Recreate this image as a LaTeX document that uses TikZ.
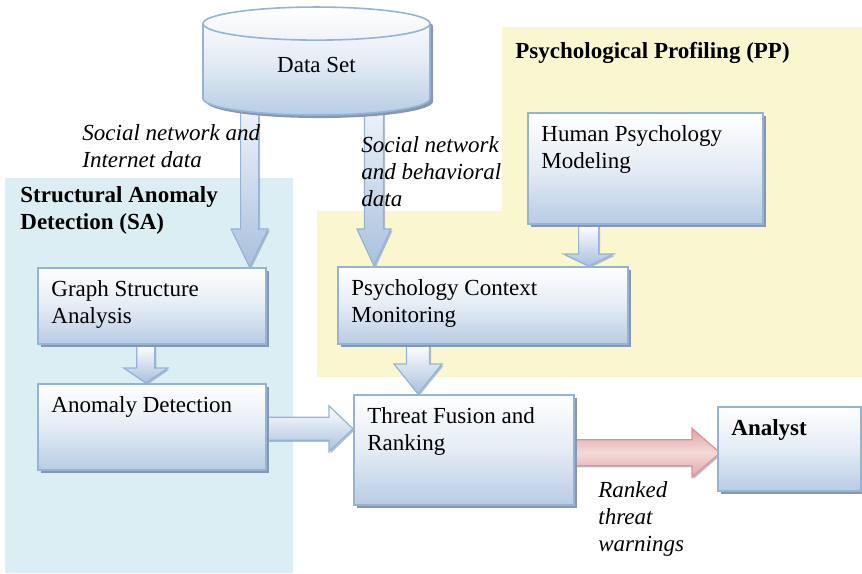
\documentclass[tikz,border=0pt]{standalone}
\usepackage{fontspec}
\setmainfont{Liberation Serif}
\usetikzlibrary{shapes.geometric}
\usetikzlibrary{positioning}
\usetikzlibrary{shadows}
\usetikzlibrary{calc}

\definecolor{boxline}{HTML}{95B3D7}
\definecolor{boxblue}{HTML}{B8CCE4}
\definecolor{boxmid}{HTML}{E4ECF5}
\definecolor{shadowc}{HTML}{8797AE}
\definecolor{sabg}{HTML}{DAEEF3}
\definecolor{ppbg}{HTML}{FAF7D0}
\definecolor{arrowblue}{HTML}{A9C0DE}
\definecolor{redline}{HTML}{D99694}
\definecolor{redfill}{HTML}{DFA3A2}
\definecolor{redlight}{HTML}{F4DAD9}

\pgfdeclarelayer{regions}
\pgfdeclarelayer{arrowlayer}
\pgfsetlayers{regions,arrowlayer,main}

% fat arrows: [style]{start}{tip}{half shaft}{half head}{head length}
\newcommand{\downfat}[6][fatarrow]{%
  \path[#1] let \p1=(#2), \p2=(#3) in
    (\x2-#4,\y1) -- (\x2-#4,\y2+#6) -- (\x2-#5,\y2+#6) -- (\p2)
    -- (\x2+#5,\y2+#6) -- (\x2+#4,\y2+#6) -- (\x2+#4,\y1) -- cycle;}
\newcommand{\rightfat}[6][fatarrow]{%
  \path[#1] let \p1=(#2), \p2=(#3) in
    (\x1,\y2+#4) -- (\x2-#6,\y2+#4) -- (\x2-#6,\y2+#5) -- (\p2)
    -- (\x2-#6,\y2-#5) -- (\x2-#6,\y2-#4) -- (\x1,\y2-#4) -- cycle;}

\begin{document}
\begin{tikzpicture}[x=0.5pt, y=-0.5pt,
    every node/.style={font=\fontsize{11.5}{13.5}\selectfont},
    box/.style={draw=boxline, line width=0.8pt, rectangle, anchor=north west,
      top color=white, bottom color=boxblue, middle color=boxmid,
      drop shadow={shadow xshift=1.5pt, shadow yshift=-1.5pt, fill=shadowc, opacity=1}},
    boxtext/.style={anchor=base west, align=flush left, text width=140pt, inner sep=0pt,
      xshift=7pt, yshift=-14.5pt},
    note/.style={anchor=base west, align=flush left, text width=100pt, inner sep=0pt,
      font=\fontsize{11.5}{13.5}\selectfont\itshape},
    title/.style={anchor=base west, align=flush left, text width=160pt, inner sep=0pt,
      font=\fontsize{11.5}{13.5}\selectfont\bfseries},
    fatarrow/.style={draw=boxline, line width=0.6pt, top color=white, bottom color=arrowblue,
      drop shadow={shadow xshift=0.8pt, shadow yshift=-0.8pt, fill=shadowc, opacity=0.6}},
    redarrow/.style={draw=redline, line width=0.6pt, top color=redfill, bottom color=redfill,
      middle color=redlight,
      drop shadow={shadow xshift=0.8pt, shadow yshift=-0.8pt, fill=shadowc, opacity=0.6}}]
  \useasboundingbox (0,0) rectangle (862,573);

  % shaded regions
  \begin{pgfonlayer}{regions}
    \fill[sabg] (5,178) rectangle (293,573);
    \fill[ppbg] (502,27) -- (862,27) -- (862,377) -- (317,377) -- (317,211) -- (502,211) -- cycle;
  \end{pgfonlayer}
  \node[title] (satitle) at (20,202) {Structural Anomaly\\Detection (SA)};
  \node[title] (pptitle) at (515,58) {Psychological Profiling (PP)};

  % data store
  \node[cylinder, shape border rotate=90, aspect=0.36, draw=boxline, line width=0.8pt,
    minimum width=113.5pt, minimum height=54pt,
    top color=white, bottom color=boxblue, middle color=boxmid,
    drop shadow={shadow xshift=1.5pt, shadow yshift=-1.5pt, fill=shadowc, opacity=1}]
    (ds) at (316.5,72.5) {\raisebox{7.5pt}{Data Set}};

  % processing blocks
  \node[box, minimum width=114pt, minimum height=38pt] (gsa) at (37,267) {};
  \node[boxtext] (gsatxt) at (gsa.north west) {Graph Structure\\Analysis};
  \node[box, minimum width=114pt, minimum height=43pt] (ad) at (37,383) {};
  \node[boxtext] (adtxt) at (ad.north west) {Anomaly Detection};
  \node[box, minimum width=117.5pt, minimum height=55.5pt] (hpm) at (527,112) {};
  \node[boxtext] (hpmtxt) at (hpm.north west) {Human Psychology\\Modeling};
  \node[box, minimum width=145pt, minimum height=38.5pt] (pcm) at (337,266) {};
  \node[boxtext] (pcmtxt) at (pcm.north west) {Psychology Context\\Monitoring};
  \node[box, minimum width=110pt, minimum height=55pt] (tfr) at (353,394) {};
  \node[boxtext] (tfrtxt) at (tfr.north west) {Threat Fusion and\\Ranking};
  \node[box, minimum width=71.5pt, minimum height=42pt] (an) at (717,406) {};
  \node[boxtext, font=\fontsize{11.5}{13.5}\selectfont\bfseries] (antxt) at (an.north west) {Analyst};

  % block arrows
  \begin{pgfonlayer}{arrowlayer}
    \downfat{ds.center}{[xshift=-8.5pt]gsa.north east}{4.5pt}{9.25pt}{19pt}
    \downfat{ds.center}{[xshift=18.5pt]pcm.north west}{4.75pt}{8.5pt}{18.5pt}
    \downfat{hpm.south}{[xshift=-20pt]pcm.north east}{5pt}{12.5pt}{6pt}
    \downfat{pcm.south}{[xshift=32.5pt]tfr.north west}{5.75pt}{12pt}{15pt}
    \downfat{gsa.south}{[xshift=-3pt]ad.north}{4.5pt}{11pt}{7.5pt}
    \rightfat{ad.east}{[yshift=10.5pt]tfr.west}{5.75pt}{11.5pt}{12pt}
    \rightfat[redarrow]{tfr.east}{[xshift=1.5pt,yshift=-2pt]an.west}{6.5pt}{12.25pt}{14pt}
  \end{pgfonlayer}

  % arrow notes
  \node[note] (sninet) at (82,140) {Social network and\\Internet data};
  \node[note] (snbeh) at (361,152) {Social network\\and behavioral\\data};
  \node[note] (ranked) at (598,497) {Ranked\\threat\\warnings};
\end{tikzpicture}
\end{document}
